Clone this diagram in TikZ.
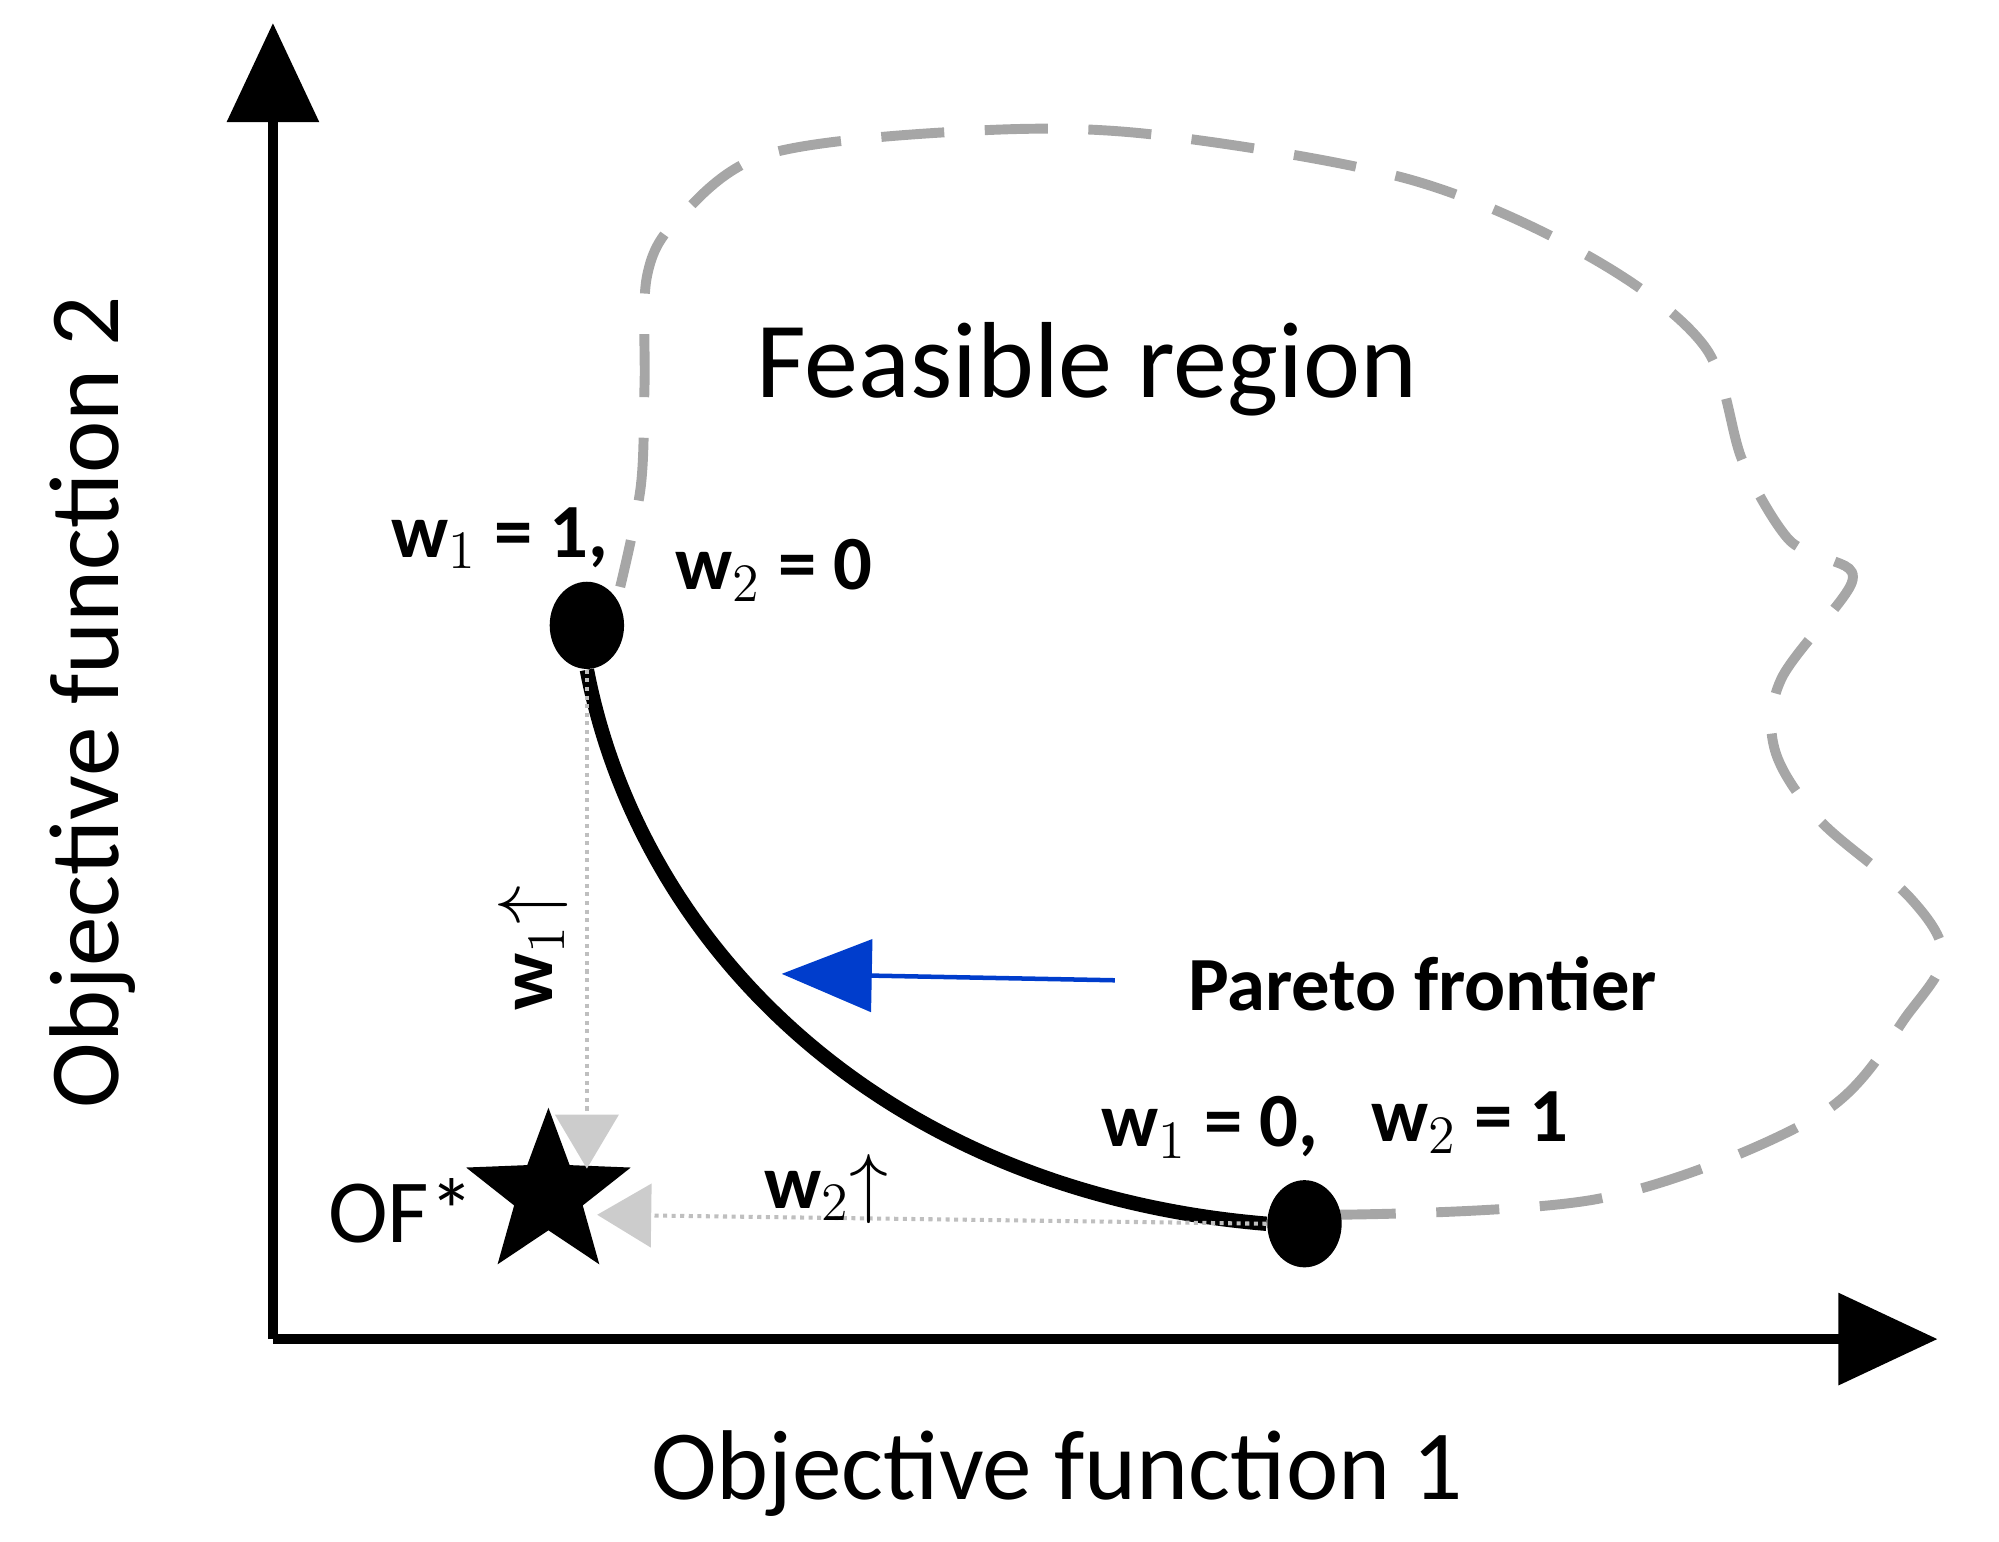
\documentclass[tikz,border=0pt]{standalone}
\usepackage{fontspec}
\setmainfont{Carlito}
\usetikzlibrary{arrows.meta,shapes.geometric}

\begin{document}
\begin{tikzpicture}[x=0.01cm,y=-0.01cm,
	axis/.style={line width=2.2pt,-{Triangle[length=22pt,width=20pt]}},
	lbl/.style={font=\fontsize{22}{26}\selectfont},
	wlbl/.style={font=\fontsize{17}{20}\selectfont\bfseries},
	guide/.style={gray!50,densely dotted,line width=0.9pt,-{Triangle[length=12pt,width=14pt,color=gray!40]}},
	dot/.style={ellipse,fill=black,minimum width=0.58cm,minimum height=0.68cm,inner sep=0pt}]
	\useasboundingbox (0,0) rectangle (1560,1203);

	%axes
	\coordinate (origin) at (213,1045);
	\coordinate (ytip) at (213,18);
	\coordinate (xtip) at (1512,1045);
	\draw[axis] (origin) -- (ytip);
	\draw[axis] (origin) -- (xtip);
	\node[lbl,rotate=90] (ylabel) at (72,548) {Objective function 2};
	\node[lbl] (xlabel) at (825,1150) {Objective function 1};

	%feasible region
	\draw[gray!70,dashed,dash pattern=on 14pt off 9pt,line width=2.2pt] plot[smooth,tension=0.55] coordinates {
		(1040,948) (1250,935) (1420,870) (1490,790) (1516,745) (1490,700) (1420,640)
		(1385,585) (1390,530) (1445,455) (1425,435) (1395,420) (1360,360) (1330,270)
		(1240,200) (1100,140) (900,105) (760,102) (600,120) (530,170) (505,215)
		(503,300) (500,380) (484,458)};
	\node[lbl,font=\fontsize{24}{28}\selectfont] (feasible) at (848,288) {Feasible region};

	%pareto frontier
	\node[dot] (top) at (458,488) {};
	\node[dot] (bottom) at (1018,955) {};
	\draw[line width=3.2pt] (top.south) .. controls (500,740) and (690,930) .. (bottom.west);
	\node[wlbl] (wa) at (390,420) {w$_1$ = 1,};
	\node[wlbl] (wb) at (604,445) {w$_2$ = 0};
	\node[wlbl] (wc) at (944,880) {w$_1$ = 0,};
	\node[wlbl] (wd) at (1147,876) {w$_2$ = 1};
	\node[wlbl,anchor=west] (pareto) at (915,768) {Pareto frontier};
	\coordinate (ptip) at (610,760);
	\draw[blue!70!cyan!80!black,line width=1pt,-{Triangle[length=20pt,width=16pt]}] (pareto.west) ++(-45,-3) -- (ptip);

	%ideal point
	\node[star,star points=5,star point ratio=2.4,fill=black,minimum size=1.35cm,inner sep=0pt] (ideal) at (428,932) {};
	\node[font=\fontsize{20}{24}\selectfont] (of) at (313,945) {OF*};
	\draw[guide] (top.south) -- (458,912);
	\draw[guide] (bottom.west) -- (466,948);
	\node[wlbl,rotate=90] (wup1) at (416,740) {w$_1$$\uparrow$};
	\node[wlbl] (wup2) at (645,928) {w$_2$$\uparrow$};
\end{tikzpicture}
\end{document}
